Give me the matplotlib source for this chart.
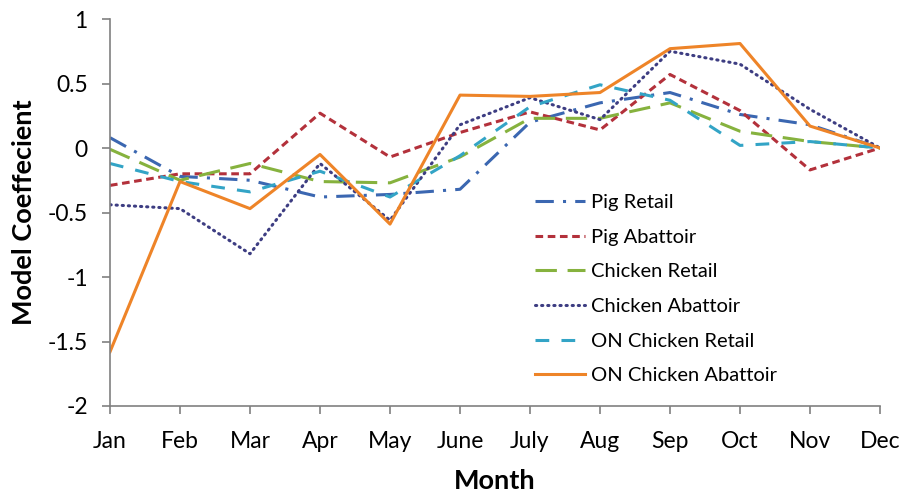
import matplotlib.pyplot as plt

months = ['Jan', 'Feb', 'Mar', 'Apr', 'May', 'June', 'July', 'Aug', 'Sep', 'Oct', 'Nov', 'Dec']

pig_retail = [0.08, -0.22, -0.25, -0.38, -0.36, -0.32, 0.20, 0.35, 0.43, 0.26, 0.18, 0.0]
pig_abattoir = [-0.29, -0.20, -0.20, 0.27, -0.07, 0.12, 0.28, 0.14, 0.57, 0.29, -0.17, 0.0]
chicken_retail = [-0.01, -0.25, -0.12, -0.26, -0.27, -0.07, 0.23, 0.23, 0.35, 0.13, 0.05, 0.0]
chicken_abattoir = [-0.44, -0.47, -0.82, -0.12, -0.56, 0.18, 0.39, 0.22, 0.75, 0.65, 0.30, 0.0]
on_chicken_retail = [-0.12, -0.26, -0.34, -0.18, -0.38, -0.06, 0.32, 0.49, 0.37, 0.02, 0.05, 0.0]
on_chicken_abattoir = [-1.58, -0.26, -0.47, -0.05, -0.59, 0.41, 0.40, 0.43, 0.77, 0.81, 0.17, 0.0]

yticks = [-2, -1.5, -1, -0.5, 0, 0.5, 1]

plt.rcParams['font.family'] = ['Lato', 'DejaVu Sans']

fig = plt.figure(figsize=(9.02, 4.91), dpi=100)
ax = fig.add_axes([110 / 902, 1 - 406 / 491, 770 / 902, 387 / 491])

x = list(range(len(months)))
lw = 2.2
ax.plot(x, pig_retail, color='#3b67b1', lw=lw, dashes=(6, 3, 1, 3), label='Pig Retail')
ax.plot(x, pig_abattoir, color='#b3313b', lw=lw, dashes=(2.5, 1.5), label='Pig Abattoir')
ax.plot(x, chicken_retail, color='#86b23e', lw=lw, dashes=(7, 3.5), label='Chicken Retail')
ax.plot(x, chicken_abattoir, color='#3d3d82', lw=lw, dashes=(0.4, 1.6),
        dash_capstyle='round', label='Chicken Abattoir')
ax.plot(x, on_chicken_retail, color='#33a4c6', lw=lw, dashes=(4.5, 4), label='ON Chicken Retail')
ax.plot(x, on_chicken_abattoir, color='#ee8428', lw=lw, label='ON Chicken Abattoir')

ax.set_xlim(0, 11)
ax.set_ylim(-2, 1)
ax.set_xticks(x)
ax.set_xticklabels(months)
ax.set_yticks(yticks)
ax.set_yticklabels(['-2', '-1.5', '-1', '-0.5', '0', '0.5', '1'])

for s in ['top', 'right']:
    ax.spines[s].set_visible(False)
for s in ['left', 'bottom']:
    ax.spines[s].set_color('#808080')
    ax.spines[s].set_linewidth(1.2)
ax.tick_params(axis='both', colors='#808080', labelcolor='black', labelsize=16.5,
               length=6, width=1.2, direction='out')
ax.tick_params(axis='x', pad=12)
ax.tick_params(axis='y', pad=10)

ax.set_xlabel('Month', fontsize=19.5, fontweight='bold', labelpad=12)
ax.set_ylabel('Model Coeffecient', fontsize=19.5, fontweight='bold', labelpad=8)

ax.legend(loc='upper left', bbox_to_anchor=(517 / 902, 1 - 176 / 491),
          bbox_transform=fig.transFigure, frameon=False, fontsize=14.5,
          handlelength=2.5, handletextpad=0.25, labelspacing=0.87)

fig.savefig('out.png', dpi=100)
